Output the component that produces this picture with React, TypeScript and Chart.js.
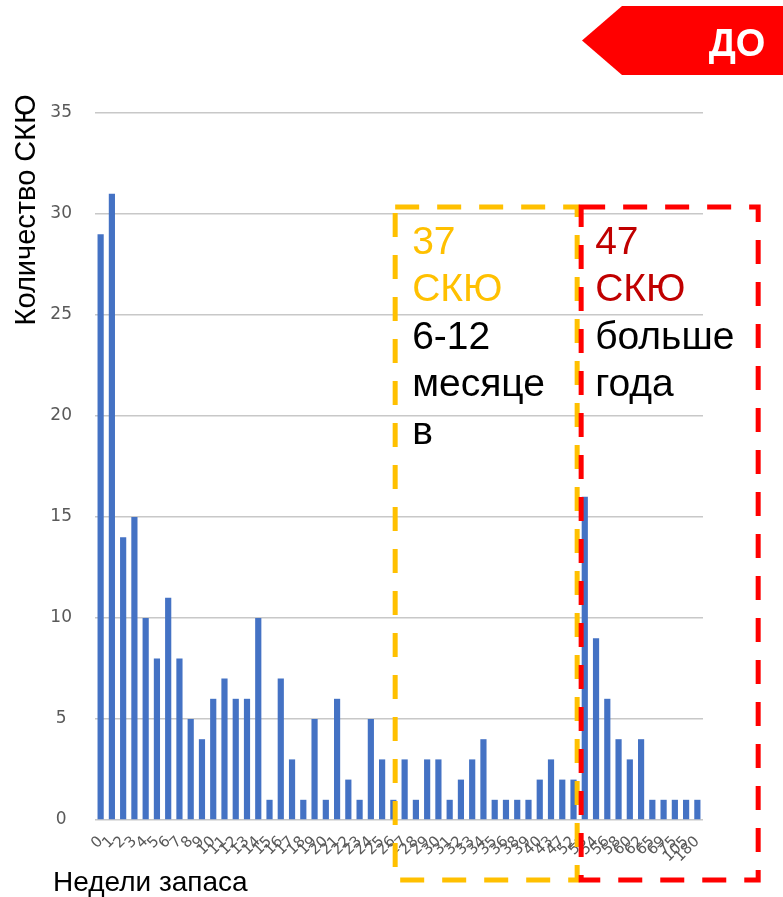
import { useEffect, useRef } from "react";
import { Chart, registerables } from "chart.js";

Chart.register(...registerables);

// Weeks of stock (category labels)
const weekLabels: string[] = [
  "0", "1", "2", "3", "4", "5", "6", "7", "8", "9", "10", "11", "12", "13",
  "14", "15", "16", "17", "18", "19", "20", "21", "22", "23", "24", "25",
  "26", "27", "28", "29", "30", "31", "32", "33", "34", "35", "36", "38",
  "39", "40", "43", "47", "52",
  "53", "54", "56", "58", "60", "62", "65", "69", "75", "105", "180",
];

// Number of SKUs per week bucket
const skuCounts: number[] = [
  29, 31, 14, 15, 10, 8, 11, 8, 5, 4, 6, 7, 6, 6, 10, 1, 7, 3, 1, 5, 1, 6, 2, 1, 5, 3,
  1, 3, 1, 3, 3, 1, 2, 3, 4, 1, 1, 1, 1, 2, 3, 2, 2,
  16, 9, 6, 4, 3, 4, 1, 1, 1, 1, 1,
];

const yMin = 0;
const yMax = 35;
const yStep = 5;

const yAxisTitle = "Количество СКЮ";
const xAxisTitle = "Недели запаса";
const badgeText = "ДО";

const yellowBoxLines = ["37", "СКЮ", "6-12", "месяце", "в"];
const redBoxLines = ["47", "СКЮ", "больше", "года"];

// Box extents expressed in data units (category index / value)
const yellowBoxFrom = 26.16;
const boxSplit = 42.5;
const redBoxTo = 58.4;
const boxTopValue = 30.35;

const W = 783;
const H = 897;

export default function App() {
  const ref = useRef<HTMLCanvasElement | null>(null);

  useEffect(() => {
    const canvas = ref.current;
    if (!canvas) return;

    const overlay = {
      id: "overlay",
      afterDraw(chart: any) {
        const ctx = chart.ctx as CanvasRenderingContext2D;
        const xs = chart.scales.x;
        const ys = chart.scales.y;
        const area = chart.chartArea;
        const font = '"Liberation Sans", Arial, sans-serif';

        const top = ys.getPixelForValue(boxTopValue);
        const bottom = area.bottom + 60;
        const yl = xs.getPixelForValue(yellowBoxFrom);
        const split = xs.getPixelForValue(boxSplit);
        const rr = xs.getPixelForValue(redBoxTo);

        ctx.save();
        ctx.lineWidth = 5;
        ctx.setLineDash([24, 18]);
        // yellow box
        ctx.strokeStyle = "#FFC000";
        ctx.strokeRect(yl, top, split - 2 - yl, bottom - top);
        // red box
        ctx.strokeStyle = "#FF0000";
        ctx.strokeRect(split + 2, top, rr - split - 2, bottom - top);
        ctx.setLineDash([]);

        // box texts
        ctx.font = `39px ${font}`;
        ctx.textBaseline = "middle";
        ctx.textAlign = "left";
        const lineH = 47.5;
        yellowBoxLines.forEach((t, i) => {
          ctx.fillStyle = i < 2 ? "#FFC000" : "#000000";
          ctx.fillText(t, yl + 17, top + 36 + i * lineH);
        });
        redBoxLines.forEach((t, i) => {
          ctx.fillStyle = i < 2 ? "#C00000" : "#000000";
          ctx.fillText(t, split + 16, top + 36 + i * lineH);
        });

        // axis titles
        ctx.fillStyle = "#000000";
        ctx.font = `28px ${font}`;
        ctx.textAlign = "left";
        ctx.fillText(xAxisTitle, 53, 883);

        ctx.save();
        ctx.translate(27, 210);
        ctx.rotate(-Math.PI / 2);
        ctx.textAlign = "center";
        ctx.font = `29px ${font}`;
        ctx.fillText(yAxisTitle, 0, 0);
        ctx.restore();

        // badge
        ctx.fillStyle = "#FF0000";
        ctx.beginPath();
        ctx.moveTo(582, 40.5);
        ctx.lineTo(622, 6);
        ctx.lineTo(W, 6);
        ctx.lineTo(W, 75);
        ctx.lineTo(622, 75);
        ctx.closePath();
        ctx.fill();
        ctx.fillStyle = "#FFFFFF";
        ctx.font = `bold 38px ${font}`;
        ctx.textAlign = "center";
        ctx.fillText(badgeText, 737, 46);
        ctx.restore();
      },
    };

    const chart = new Chart(canvas, {
      type: "bar",
      data: {
        labels: weekLabels,
        datasets: [
          {
            data: skuCounts,
            backgroundColor: "#4472C4",
            barPercentage: 0.55,
            categoryPercentage: 1,
          },
        ],
      },
      options: {
        responsive: false,
        animation: false,
        layout: { padding: { top: 113, right: 80, left: 0, bottom: 0 } },
        plugins: {
          legend: { display: false },
          tooltip: { enabled: false },
        },
        scales: {
          x: {
            grid: { display: false },
            border: { display: false },
            ticks: {
              autoSkip: false,
              minRotation: 45,
              maxRotation: 45,
              padding: 5,
              color: "#595959",
              font: { family: '"DejaVu Sans", sans-serif', size: 15 },
            },
            afterFit(s: any) {
              s.height = 77;
            },
          },
          y: {
            min: yMin,
            max: yMax,
            border: { display: false },
            grid: { color: "#C8C8C8", lineWidth: 1.5, drawTicks: false },
            ticks: {
              stepSize: yStep,
              padding: 23,
              crossAlign: "center",
              color: "#595959",
              font: { family: '"DejaVu Sans", sans-serif', size: 17 },
            },
            afterFit(s: any) {
              s.width = 95;
            },
          },
        },
      },
      plugins: [overlay],
    });

    return () => chart.destroy();
  }, []);

  return (
    <div
      style={{
        position: "fixed",
        left: 0,
        top: 0,
        width: W,
        height: H,
        overflow: "hidden",
        background: "#ffffff",
      }}
    >
      <canvas ref={ref} width={W} height={H} style={{ width: W, height: H }} />
    </div>
  );
}
